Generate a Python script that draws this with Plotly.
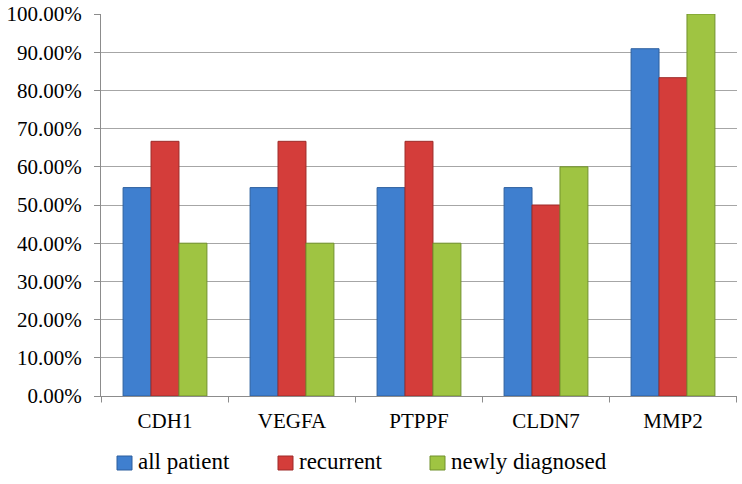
import plotly.graph_objects as go

categories = ["CDH1", "VEGFA", "PTPPF", "CLDN7", "MMP2"]
all_patient = [54.55, 54.55, 54.55, 54.55, 90.91]
recurrent = [66.67, 66.67, 66.67, 50.00, 83.33]
newly_diagnosed = [40.00, 40.00, 40.00, 60.00, 100.00]
series_names = ["all patient", "recurrent", "newly diagnosed"]
tick_vals = [0, 10, 20, 30, 40, 50, 60, 70, 80, 90, 100]
tick_text = [f"{v:.2f}%" for v in tick_vals]

colors = ["#3f7fcf", "#d43d3a", "#9fc442"]
edges = ["#2d5f9e", "#9e2b28", "#71912c"]
FAM = "Liberation Serif"

fig = go.Figure()
for name, vals, c, e in zip(series_names, [all_patient, recurrent, newly_diagnosed], colors, edges):
    fig.add_trace(go.Bar(
        x=categories, y=vals, name=name, hoverinfo="skip",
        marker=dict(color=c, line=dict(color=e, width=1)),
    ))

fig.update_layout(
    template="none",
    width=742, height=484,
    paper_bgcolor="white", plot_bgcolor="white",
    margin=dict(l=101, r=5, t=14, b=88),
    barmode="group", bargap=0.34, bargroupgap=0,
    font=dict(family=FAM, color="black", size=21),
    hovermode=False,
    showlegend=False,
    xaxis=dict(showline=True, linecolor="#8c8c8c", linewidth=1, ticks="",
               tickfont=dict(family=FAM, size=21, color="black"), showgrid=False,
               automargin=False, ticklabelstandoff=6),
    yaxis=dict(range=[0, 100], tickvals=tick_vals, ticktext=tick_text,
               showgrid=True, gridcolor="#a6a6a6", gridwidth=1,
               showline=True, linecolor="#8c8c8c", linewidth=1,
               ticks="outside", ticklen=6, tickcolor="#8c8c8c",
               tickfont=dict(family=FAM, size=21, color="black"), zeroline=False,
               automargin=False, ticklabelstandoff=8),
)

# category boundary tick marks on the x axis
for i in range(len(categories) + 1):
    fig.add_shape(type="line", xref="x", yref="paper",
                  x0=i - 0.5, x1=i - 0.5, y0=0, y1=-0.017,
                  line=dict(color="#8c8c8c", width=1))

# legend drawn below the plot (square swatch + serif label)
plot_l, plot_w, plot_b, plot_h = 101, 636, 396, 382
legend_px = [117, 278, 430]
for name, c, e, px in zip(series_names, colors, edges, legend_px):
    x0 = (px - plot_l) / plot_w
    x1 = (px + 15 - plot_l) / plot_w
    y0 = (plot_b - 470) / plot_h
    y1 = (plot_b - 456) / plot_h
    fig.add_shape(type="rect", xref="paper", yref="paper", x0=x0, x1=x1, y0=y0, y1=y1,
                  fillcolor=c, line=dict(color=e, width=1))
    fig.add_annotation(x=(px + 19 - plot_l) / plot_w, y=(plot_b - 462) / plot_h,
                       xref="paper", yref="paper", xanchor="left", yanchor="middle",
                       text=name, showarrow=False,
                       font=dict(family=FAM, size=23, color="black"))

fig.write_html("out.html", config={"displayModeBar": False},
               post_script="document.body.style.margin='0';")
